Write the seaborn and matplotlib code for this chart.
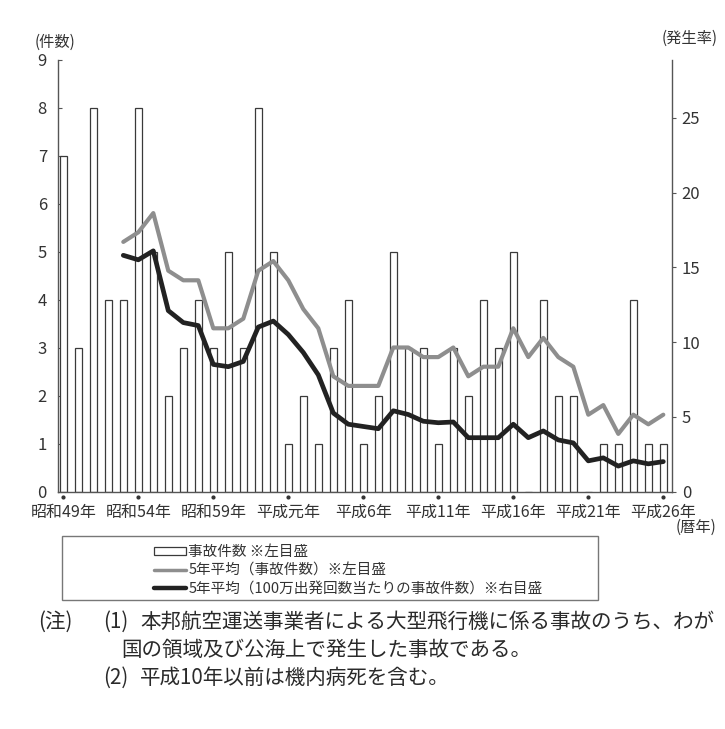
import matplotlib
matplotlib.use("Agg")
import matplotlib.pyplot as plt
from matplotlib.patches import Rectangle
from matplotlib.lines import Line2D
import seaborn as sns

# ---- data ----
years = list(range(1974, 2015))
accidents = [7, 3, 8, 4, 4, 8, 5, 2, 3, 4,
             3, 5, 3, 8, 5, 1, 2, 1, 3, 4,
             1, 2, 5, 3, 3, 1, 3, 2, 4, 3,
             5, 0, 4, 2, 2, 0, 1, 1, 4, 1, 1]
avg_years = years[4:]
avg5_count = [5.2, 5.4, 5.8, 4.6, 4.4, 4.4, 3.4, 3.4, 3.6, 4.6,
              4.8, 4.4, 3.8, 3.4, 2.4, 2.2, 2.2, 2.2, 3.0, 3.0,
              2.8, 2.8, 3.0, 2.4, 2.6, 2.6, 3.4, 2.8, 3.2, 2.8,
              2.6, 1.6, 1.8, 1.2, 1.6, 1.4, 1.6]
avg5_rate = [15.8, 15.5, 16.1, 12.1, 11.3, 11.1, 8.5, 8.35, 8.7, 11.0,
             11.4, 10.5, 9.3, 7.8, 5.25, 4.5, 4.35, 4.2, 5.4, 5.15,
             4.7, 4.6, 4.65, 3.6, 3.6, 3.6, 4.5, 3.6, 4.05, 3.45,
             3.25, 2.05, 2.25, 1.7, 2.05, 1.85, 2.0]
tick_years = [1974, 1979, 1984, 1989, 1994, 1999, 2004, 2009, 2014]
tick_labels = ["昭和49年", "昭和54年", "昭和59年", "平成元年", "平成6年",
               "平成11年", "平成16年", "平成21年", "平成26年"]
left_ticks = list(range(0, 10))
right_ticks = [0, 5, 10, 15, 20, 25]
legend_labels = ["事故件数 ※左目盛", "5年平均（事故件数）※左目盛",
                 "5年平均（100万出発回数当たりの事故件数）※右目盛"]
note_lines = ["本邦航空運送事業者による大型飛行機に係る事故のうち、わが",
              "国の領域及び公海上で発生した事故である。",
              "平成10年以前は機内病死を含む。"]

sns.set_theme(style="white")
plt.rcParams["font.family"] = ["Noto Sans CJK JP", "DejaVu Sans"]

W, H = 725, 729
fig = plt.figure(figsize=(W / 100, H / 100), dpi=100)
fig.patch.set_facecolor("white")
ax = fig.add_axes([58 / W, 1 - 491.5 / H, (672 - 58) / W, (491.5 - 59.5) / H])

gray_line = "#8e8e8e"
dark = "#222222"
axis_col = "#555555"

sns.barplot(x=years, y=accidents, ax=ax, native_scale=True, width=0.45,
            color="white", saturation=1, edgecolor="#3a3a3a", linewidth=0.9,
            zorder=2)
sns.lineplot(x=avg_years, y=avg5_count, ax=ax, color=gray_line, lw=3.0, zorder=3)

ax2 = ax.twinx()
sns.lineplot(x=avg_years, y=avg5_rate, ax=ax2, color=dark, lw=3.4, zorder=4)

x0 = years[0]
ax.set_xlim(x0 - 0.353, x0 + 40.58)
ax.set_ylim(0, 9)
ax2.set_ylim(0, 28.9)

ax.set_xlabel("")
ax.set_ylabel("")
ax2.set_xlabel("")
ax2.set_ylabel("")

for a in (ax, ax2):
    a.grid(False)
    a.spines["top"].set_visible(False)
    a.patch.set_alpha(0)
    for s in ("left", "right", "bottom"):
        a.spines[s].set_color(axis_col)
        a.spines[s].set_linewidth(1.0)

ax.spines["right"].set_visible(False)
ax2.spines["left"].set_visible(False)
ax2.spines["bottom"].set_visible(False)

ax.set_yticks(left_ticks)
ax.set_yticklabels([str(v) for v in left_ticks])
ax.tick_params(axis="y", direction="in", length=3, width=0.8, colors=axis_col,
               labelcolor="#333333", labelsize=12, pad=8)
ax2.set_yticks(right_ticks)
ax2.set_yticklabels([str(v) for v in right_ticks])
ax2.tick_params(axis="y", direction="out", length=3, width=0.8, colors=axis_col,
                labelcolor="#333333", labelsize=12, pad=4)

ax.set_xticks(tick_years)
ax.set_xticklabels(tick_labels)
ax.tick_params(axis="x", length=0, labelsize=11.5, labelcolor="#333333", pad=9)
ax.set_xticks([y + 0.5 for y in years[:-1]], minor=True)
ax.tick_params(axis="x", which="minor", direction="in", length=3, width=0.7,
               colors="#777777")

# dots under labelled years
ax.plot(tick_years, [-0.11] * len(tick_years), "o", ms=2.0, color="#333333",
        clip_on=False, zorder=5)

# axis unit labels
fig.text(35 / W, 1 - 42 / H, "(件数)", fontsize=11, color="#333333",
         ha="left", va="center")
fig.text(718 / W, 1 - 38 / H, "(発生率)", fontsize=11, color="#333333",
         ha="right", va="center")
fig.text(716 / W, 1 - 527 / H, "(暦年)", fontsize=11, color="#333333",
         ha="right", va="center")

# legend
handles = [Rectangle((0, 0), 1, 1, facecolor="white", edgecolor="#3a3a3a", lw=0.9),
           Line2D([], [], color=gray_line, lw=2.5),
           Line2D([], [], color=dark, lw=3.2)]
leg = ax.legend(handles, legend_labels, loc="upper left",
                bbox_to_anchor=(144 / W, 1 - 535 / H), bbox_transform=fig.transFigure,
                frameon=False, fontsize=10.5, handlelength=2.2, handleheight=0.5,
                handletextpad=0.15, labelspacing=0.28, borderpad=0.2)
for t in leg.get_texts():
    t.set_color("#333333")
fig.add_artist(Rectangle((62 / W, 1 - 600 / H), (598 - 62) / W, (600 - 536) / H,
                         transform=fig.transFigure, fill=False,
                         edgecolor="#777777", lw=1.0))

# notes
note_kw = dict(fontsize=14.8, color="#2a2a2a", va="center", ha="left")
fig.text(38 / W, 1 - 622 / H, "(注)", **note_kw)
fig.text(103 / W, 1 - 622 / H, "(1)", **note_kw)
fig.text(140 / W, 1 - 622 / H, note_lines[0], **note_kw)
fig.text(121 / W, 1 - 650 / H, note_lines[1], **note_kw)
fig.text(103 / W, 1 - 678 / H, "(2)", **note_kw)
fig.text(140 / W, 1 - 678 / H, note_lines[2], **note_kw)

fig.savefig("out.png", dpi=100, facecolor="white")
